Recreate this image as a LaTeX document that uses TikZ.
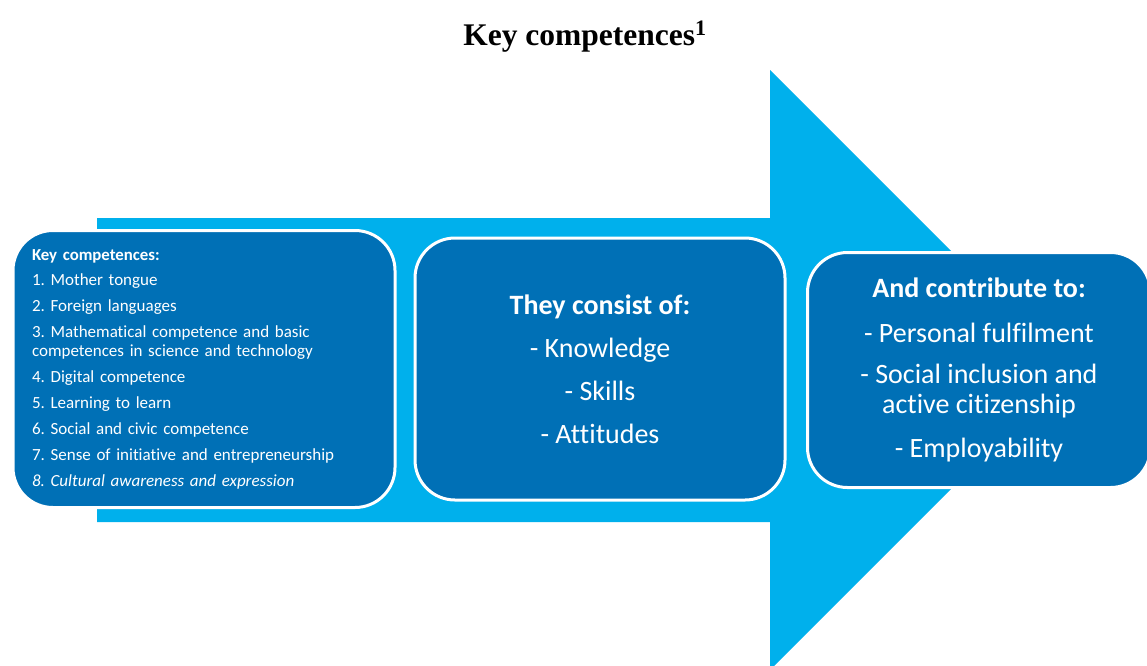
\documentclass[tikz,border=0pt]{standalone}
\usepackage{fontspec}
\setmainfont{Liberation Serif}
\newfontfamily\calibri[Ligatures=NoCommon]{Carlito}
\definecolor{shaftblue}{RGB}{0,176,236}
\definecolor{boxblue}{RGB}{0,112,182}
\frenchspacing

\begin{document}
\begin{tikzpicture}[x=1pt, y=-1pt,
    compbox/.style={draw=white, line width=3pt, fill=boxblue, rounded corners=40pt, text=white, inner sep=0pt, align=center}]
    \useasboundingbox (0,0) rectangle (1147,665);
    % big arrow behind the boxes
    \fill[shaftblue] (97,218) -- (770,218) -- (770,70) -- (1070,370) -- (770,670) -- (770,522) -- (97,522) -- cycle;
    \node[font=\bfseries\fontsize{31.5}{36}\selectfont, anchor=base] (title) at (585,45) {Key competences\textsuperscript{1}};
    \node[compbox, minimum width=382pt, minimum height=277pt, text width=344pt, inner xsep=19pt, align=left,
          font=\calibri\fontsize{17}{19}\selectfont] (list) at (204,369)
        {{\bfseries\fontsize{16.8}{19}\selectfont Key competences:}\\[6pt]
         1. Mother tongue\\[7pt]
         2. Foreign languages\\[7pt]
         3. Mathematical competence and basic\\
         competences in science and technology\\[7pt]
         4. Digital competence\\[7pt]
         5. Learning to learn\\[7pt]
         6. Social and civic competence\\[7pt]
         7. Sense of initiative and entrepreneurship\\[7pt]
         {\itshape 8. Cultural awareness and expression}};
    \node[compbox, minimum width=370pt, minimum height=262pt, font=\calibri\fontsize{28}{43}\selectfont] (consist) at (600,369)
        {{\bfseries They consist of:}\\- Knowledge\\- Skills\\- Attitudes};
    \node[compbox, minimum width=343pt, minimum height=235pt, font=\calibri\fontsize{28}{30}\selectfont] (contrib) at (979,370)
        {{\bfseries And contribute to:}\\[15pt]- Personal fulfilment\\[11pt]- Social inclusion and\\active citizenship\\[14pt]- Employability};
\end{tikzpicture}
\end{document}
